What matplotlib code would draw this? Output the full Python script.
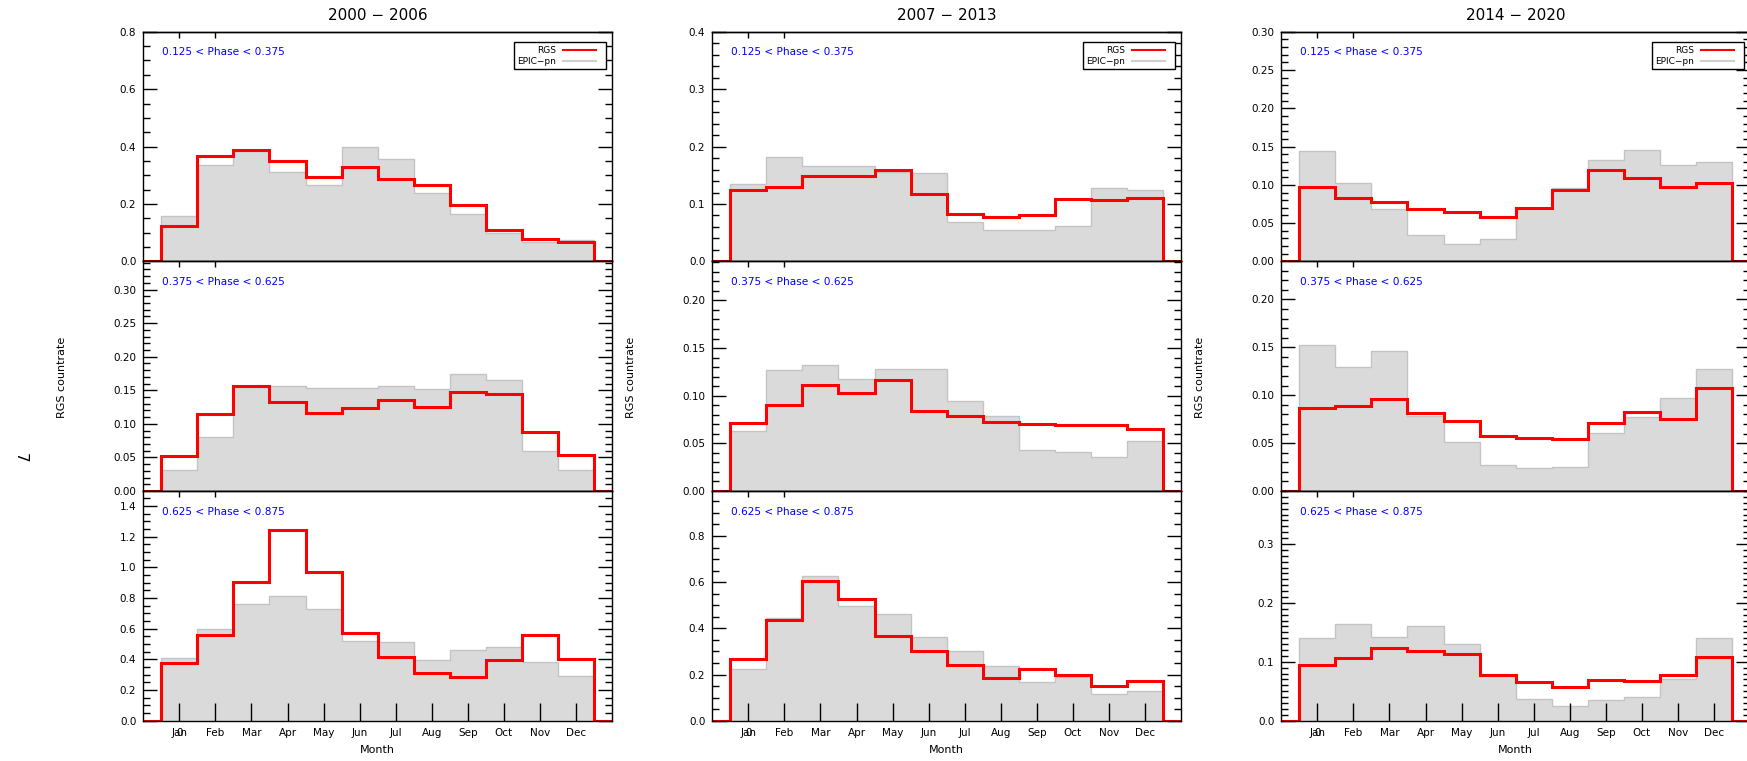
import matplotlib
matplotlib.use('Agg')
import matplotlib.pyplot as plt
import numpy as np
from matplotlib.ticker import MultipleLocator, FormatStrFormatter
from matplotlib.patches import Rectangle
from matplotlib.lines import Line2D

plt.rcParams['font.family'] = ['DejaVu Sans']

# ---------------- data ----------------
months = ['Jan', 'Feb', 'Mar', 'Apr', 'May', 'Jun', 'Jul', 'Aug', 'Sep', 'Oct', 'Nov', 'Dec']
periods = ['2000 \u2212 2006', '2007 \u2212 2013', '2014 \u2212 2020']
phases = ['0.125 < Phase < 0.375', '0.375 < Phase < 0.625', '0.625 < Phase < 0.875']

rgs_00_p1 = [0.122, 0.367, 0.388, 0.349, 0.294, 0.328, 0.287, 0.265, 0.195, 0.109, 0.079, 0.066]
epic_00_p1 = [0.157, 0.337, 0.386, 0.313, 0.266, 0.400, 0.355, 0.237, 0.166, 0.099, 0.066, 0.076]
rgs_00_p2 = [0.0525, 0.114, 0.156, 0.132, 0.116, 0.123, 0.135, 0.125, 0.148, 0.145, 0.088, 0.054]
epic_00_p2 = [0.032, 0.080, 0.155, 0.156, 0.154, 0.154, 0.157, 0.152, 0.174, 0.166, 0.059, 0.032]
rgs_00_p3 = [0.374, 0.561, 0.902, 1.243, 0.967, 0.570, 0.417, 0.313, 0.287, 0.398, 0.561, 0.404]
epic_00_p3 = [0.411, 0.598, 0.761, 0.815, 0.726, 0.520, 0.511, 0.396, 0.461, 0.483, 0.383, 0.293]

rgs_07_p1 = [0.124, 0.130, 0.149, 0.149, 0.159, 0.117, 0.083, 0.078, 0.081, 0.109, 0.107, 0.110]
epic_07_p1 = [0.134, 0.181, 0.166, 0.166, 0.156, 0.154, 0.068, 0.054, 0.055, 0.062, 0.128, 0.125]
rgs_07_p2 = [0.071, 0.0906, 0.111, 0.103, 0.116, 0.084, 0.079, 0.0725, 0.070, 0.0697, 0.0697, 0.0655]
epic_07_p2 = [0.0627, 0.127, 0.132, 0.117, 0.128, 0.128, 0.0944, 0.079, 0.043, 0.041, 0.0355, 0.052]
rgs_07_p3 = [0.268, 0.437, 0.607, 0.528, 0.365, 0.300, 0.241, 0.186, 0.223, 0.200, 0.151, 0.173]
epic_07_p3 = [0.222, 0.447, 0.627, 0.497, 0.461, 0.363, 0.303, 0.236, 0.167, 0.190, 0.117, 0.130]

rgs_14_p1 = [0.0968, 0.0833, 0.0772, 0.0689, 0.0645, 0.058, 0.070, 0.0933, 0.119, 0.1086, 0.0973, 0.102]
epic_14_p1 = [0.144, 0.103, 0.068, 0.0349, 0.0231, 0.0292, 0.070, 0.096, 0.133, 0.145, 0.126, 0.1295]
rgs_14_p2 = [0.0871, 0.0885, 0.0965, 0.0811, 0.0727, 0.057, 0.0556, 0.0545, 0.071, 0.0822, 0.0755, 0.107]
epic_14_p2 = [0.152, 0.129, 0.146, 0.0787, 0.051, 0.0269, 0.0245, 0.0255, 0.0605, 0.0773, 0.0972, 0.127]
rgs_14_p3 = [0.0945, 0.1064, 0.123, 0.118, 0.1138, 0.0775, 0.066, 0.0577, 0.0685, 0.0673, 0.078, 0.108]
epic_14_p3 = [0.141, 0.164, 0.1426, 0.160, 0.1296, 0.076, 0.037, 0.0243, 0.0345, 0.040, 0.0707, 0.140]

rgs = [[rgs_00_p1, rgs_00_p2, rgs_00_p3],
       [rgs_07_p1, rgs_07_p2, rgs_07_p3],
       [rgs_14_p1, rgs_14_p2, rgs_14_p3]]
epic = [[epic_00_p1, epic_00_p2, epic_00_p3],
        [epic_07_p1, epic_07_p2, epic_07_p3],
        [epic_14_p1, epic_14_p2, epic_14_p3]]

# ---------------- axis settings ----------------
ymax = [[0.8001, 0.342, 1.498], [0.4001, 0.241, 0.995], [0.3001, 0.2397, 0.39]]
major = [[0.2, 0.05, 0.2], [0.1, 0.05, 0.2], [0.05, 0.05, 0.1]]
minor = [[0.05, 0.01, 0.05], [0.02, 0.01, 0.05], [0.01, 0.01, 0.01]]
fmts = [['%.1f', '%.2f', '%.1f'], ['%.1f', '%.2f', '%.1f'], ['%.2f', '%.2f', '%.1f']]

W, H = 1747, 761
fig = plt.figure(figsize=(W / 100, H / 100), dpi=100)

col_x = [143.3, 712.3, 1281.3]
col_w = 468.7
row_top = [31.7, 261.3, 491.0]
row_h = 229.7


def frect(x, ytop, w, h):
    return [x / W, 1 - (ytop + h) / H, w / W, h / H]


xpos = np.arange(1, len(months) + 1)
edges = np.arange(len(months) + 1) + 0.5
xlo, xhi = 0, len(months) + 1
red_edges = np.r_[xlo, edges, xhi]

for c in range(3):
    for r in range(3):
        ax = fig.add_axes(frect(col_x[c], row_top[r], col_w, row_h))
        ax.set_xlim(xlo, xhi)
        ax.set_ylim(0, ymax[c][r])
        e = np.array(epic[c][r])
        g = np.array(rgs[c][r])
        ax.stairs(e, edges, fill=True, color='#dadada', lw=0, zorder=1)
        ax.stairs(e, edges, color='#c4c4c4', lw=1.0, baseline=0, zorder=1.5)
        ax.stairs(np.r_[0, g, 0], red_edges, baseline=None, color='#ff0000', lw=2.2, zorder=2.2)

        for s in ax.spines.values():
            s.set_linewidth(1.0)
            s.set_color('black')
            s.set_zorder(2.5)

        ax.yaxis.set_major_locator(MultipleLocator(major[c][r]))
        ax.yaxis.set_minor_locator(MultipleLocator(minor[c][r]))
        ax.yaxis.set_major_formatter(FormatStrFormatter(fmts[c][r]))
        ax.tick_params(axis='y', which='major', direction='in', length=10, width=1,
                       left=True, right=True, labelsize=7.5, pad=5)
        ax.tick_params(axis='y', which='minor', direction='in', length=5, width=1,
                       left=True, right=True)

        ax.set_xticks(xpos)
        if r == 2:
            ax.set_xticklabels(months)
            ax.tick_params(axis='x', direction='in', length=13, width=1,
                           labelsize=7.5, pad=5.5, top=False)
            ax.annotate('0', xy=(1, 0), xycoords=('data', 'axes fraction'),
                        xytext=(0, -5.5), textcoords='offset points',
                        ha='center', va='top', fontsize=7.5)
            fig.text((col_x[c] + col_w / 2) / W, 1 - 750 / H, 'Month',
                     ha='center', va='center', fontsize=8)
        else:
            ax.tick_params(axis='x', length=0, labelbottom=False, top=False)

        sec = ax.secondary_xaxis('top')
        sec.set_xticks(xpos[:2])
        sec.set_xticklabels([])
        sec.tick_params(direction='in', length=4, width=1)
        sec.spines['top'].set_linewidth(1.0)

        ax.text(19 / col_w, 1 - 20.6 / row_h, phases[r], transform=ax.transAxes,
                color='#0000ff', fontsize=7.6, ha='left', va='center')

        if r == 0:
            ax.add_patch(Rectangle((0.791, 0.838), 0.196, 0.117, transform=ax.transAxes,
                                   facecolor='white', edgecolor='black', lw=1.0, zorder=5))
            ax.add_line(Line2D([0.8963, 0.965], [0.920, 0.920], transform=ax.transAxes,
                               color='#ff0000', lw=1.5, zorder=6))
            ax.add_line(Line2D([0.8963, 0.965], [0.872, 0.872], transform=ax.transAxes,
                               color='#d0d0d0', lw=1.5, zorder=6))
            ax.text(0.8805, 0.920, 'RGS', transform=ax.transAxes, ha='right',
                    va='center', fontsize=6.5, zorder=6)
            ax.text(0.8805, 0.872, 'EPIC\u2212pn', transform=ax.transAxes, ha='right',
                    va='center', fontsize=6.5, zorder=6)

        if r == 1:
            fig.text((col_x[c] - 81) / W, 1 - 377 / H, 'RGS countrate',
                     rotation=90, ha='center', va='center', fontsize=8)

    fig.text((col_x[c] + col_w / 2) / W, 1 - 15.7 / H, periods[c],
             ha='center', va='center', fontsize=11)

fig.text(20 / W, 1 - 458 / H, '7', rotation=270, ha='center', va='center', fontsize=11)

fig.savefig('out.png', dpi=100)
